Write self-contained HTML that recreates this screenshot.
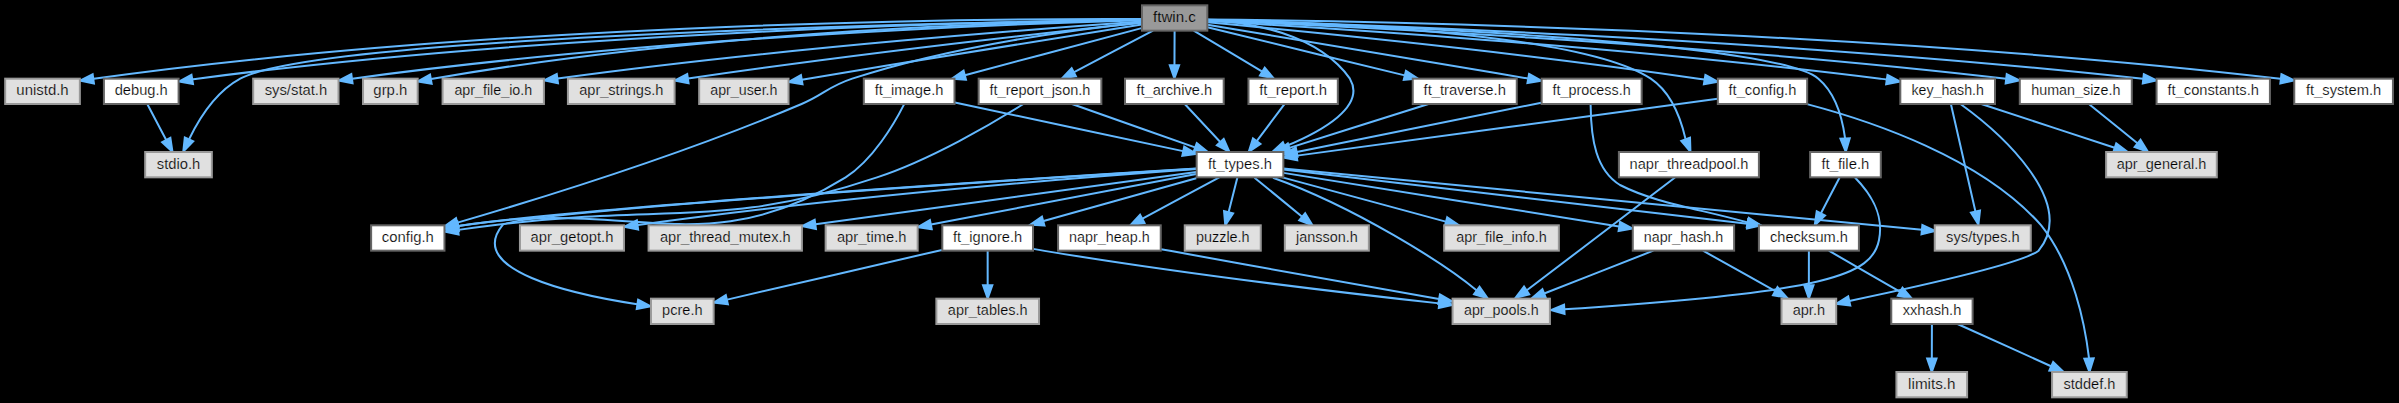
<!DOCTYPE html><html><head><meta charset="utf-8"><style>html,body{margin:0;padding:0;background:#000;overflow:hidden}svg{display:block} text{font-family:"Liberation Sans",sans-serif;font-size:14.2px;fill:#000}</style></head><body><svg width="2399" height="403" viewBox="0 0 2399 403">
<rect width="2399" height="403" fill="#000"/>
<g fill="none" stroke="#63b8ff" stroke-width="2.0">
<path d="M1141.68,19.09 C1010.59,18.56 513.73,20.58 93.74,78.76"/>
<path d="M1141.58,19.68 C1017.17,21.32 565.56,30.45 197.25,78.67 195.77,78.85 194.28,79.07 192.77,79.29"/>
<path d="M1141.49,19.80 C984.66,22.20 321.61,34.89 240.22,78.67 215.68,91.88 198.93,119.00 189.22,139.00"/>
<path d="M1141.90,20.13 C1032.11,23.15 666.89,35.78 352.25,78.68"/>
<path d="M1141.72,19.67 C1038.55,21.16 712.52,29.56 431.08,79.09"/>
<path d="M1141.68,21.52 C1050.81,27.76 789.02,47.12 557.60,78.59"/>
<path d="M1141.44,22.79 C1064.36,30.91 867.12,52.44 688.10,78.53"/>
<path d="M1141.76,24.49 C1077.52,34.59 930.93,57.83 807.86,78.67 805.91,79.00 803.92,79.34 801.93,79.68"/>
<path d="M1141.86,22.39 C1082.73,28.56 954.87,44.87 852.22,78.67 827.83,86.69 824.40,94.32 801.59,104.00 682.36,154.56 533.31,200.47 457.49,222.65"/>
<path d="M1141.58,28.14 C1097.36,39.90 1018.36,60.93 964.87,75.17"/>
<path d="M1207.53,19.69 C1248.77,22.12 1317.97,33.23 1349.91,78.67 1366.24,106.37 1322.47,131.08 1284.77,146.55"/>
<path d="M1153.01,30.69 C1131.75,41.85 1098.95,59.07 1074.16,72.07"/>
<path d="M1174.60,31.00 C1174.56,40.27 1174.51,53.53 1174.46,65.16"/>
<path d="M1193.69,30.69 C1212.06,41.64 1240.20,58.42 1261.86,71.34"/>
<path d="M1207.42,27.32 C1255.22,38.96 1344.92,60.81 1404.76,75.38"/>
<path d="M1207.44,24.67 C1267.84,34.55 1401.18,56.49 1527.94,78.50"/>
<path d="M1207.34,19.79 C1302.93,21.68 1579.91,31.23 1650.79,78.67 1671.48,92.60 1680.96,119.19 1685.50,138.87"/>
<path d="M1207.85,22.36 C1290.79,30.11 1513.72,51.87 1698.51,78.67 1700.47,78.95 1702.45,79.25 1704.45,79.56"/>
<path d="M1207.36,20.23 C1331.93,23.89 1771.91,39.56 1818.36,78.67 1835.44,92.93 1842.41,118.67 1845.06,138.03"/>
<path d="M1207.41,21.12 C1309.07,26.89 1622.44,46.26 1880.50,78.74 1882.28,78.97 1884.43,79.24 1886.25,79.50"/>
<path d="M1207.40,20.58 C1318.74,25.04 1687.41,41.73 2006.05,78.71"/>
<path d="M1207.64,20.16 C1330.53,23.49 1767.68,37.64 2142.93,78.82"/>
<path d="M1207.34,19.56 C1340.51,20.79 1848.93,28.61 2280.33,78.72"/>
<path d="M147.40,104.33 C152.50,114.01 159.90,128.06 166.21,140.02"/>
<path d="M904.07,104.36 C894.49,123.28 872.83,160.23 845.65,177.33 703.71,264.96 631.13,197.24 463.80,225.33 461.84,225.65 459.85,225.99 457.84,226.33"/>
<path d="M954.83,102.44 C1013.86,115.04 1118.85,137.45 1182.99,151.14"/>
<path d="M1196.43,168.61 C1056.21,177.10 606.97,205.18 463.22,225.30 461.55,225.54 460.29,225.71 458.58,225.97"/>
<path d="M1196.32,168.63 C1037.46,178.32 509.48,212.15 502.33,225.33 465.64,270.52 572.51,294.32 637.15,304.25"/>
<path d="M1196.47,169.06 C1100.19,176.03 855.70,195.14 637.81,224.97"/>
<path d="M1196.37,171.99 C1113.58,183.35 926.07,209.09 815.61,224.25"/>
<path d="M1196.28,174.09 C1139.77,184.57 1034.46,204.22 931.04,224.53"/>
<path d="M1196.27,178.28 C1154.61,189.92 1089.56,208.10 1043.61,220.95"/>
<path d="M1273.00,177.70 C1355.00,207.00 1445.00,264.00 1476.80,290.50"/>
<path d="M1219.30,177.36 C1198.17,188.72 1166.86,205.57 1142.53,218.66"/>
<path d="M1237.33,177.67 C1234.89,187.34 1231.69,199.94 1228.66,211.90"/>
<path d="M1254.52,177.67 C1266.83,187.76 1286.85,204.18 1301.84,216.46"/>
<path d="M1280.47,176.85 C1324.88,188.88 1396.33,208.26 1445.66,221.63"/>
<path d="M1283.45,172.88 C1365.50,185.97 1523.76,211.25 1618.98,226.44"/>
<path d="M1283.30,169.60 C1438.05,187.68 1592.81,205.77 1747.56,223.85"/>
<path d="M1283.30,168.60 C1496.18,188.98 1709.05,209.35 1921.93,229.73"/>
<path d="M941.94,249.91 C883.99,263.32 784.73,286.29 727.19,299.61"/>
<path d="M987.66,251.00 C987.67,260.27 987.67,273.53 987.68,285.16"/>
<path d="M1033.29,248.88 C1037.07,249.58 1040.85,250.25 1044.49,250.86 1185.67,274.25 1352.25,293.78 1439.27,303.37"/>
<path d="M1161.03,249.15 C1164.53,249.80 1168.01,250.46 1171.40,251.07 1265.21,268.32 1373.53,287.52 1438.96,299.05"/>
<path d="M1653.34,250.69 C1625.43,261.64 1577.07,280.62 1544.16,293.54"/>
<path d="M1702.99,250.69 C1723.28,262.04 1751.95,278.08 1774.88,290.90"/>
<path d="M1808.89,251.00 C1808.88,260.27 1808.88,273.53 1808.87,285.16"/>
<path d="M1828.83,250.69 C1847.67,261.55 1877.46,278.72 1899.80,291.58"/>
<path d="M1931.92,324.33 C1931.89,333.60 1931.85,346.87 1931.82,358.49"/>
<path d="M1957.56,324.03 C1982.31,335.19 2022.28,353.22 2051.11,366.22"/>
<path d="M1023.01,104.27 C993.04,123.07 930.35,159.84 876.99,177.33 719.87,230.05 663.36,203.00 493.13,225.33 481.85,226.76 469.75,228.35 458.29,229.87"/>
<path d="M1071.98,104.03 C1105.48,115.83 1157.50,134.17 1194.99,147.38"/>
<path d="M1184.74,104.03 C1194.51,114.47 1208.44,129.38 1220.26,142.02"/>
<path d="M1284.28,104.33 C1277.05,114.01 1265.84,129.01 1256.91,140.97"/>
<path d="M1428.48,104.03 C1391.00,115.83 1331.32,134.63 1289.38,147.84"/>
<path d="M1541.32,102.77 C1476.10,115.88 1364.99,138.22 1296.81,151.92"/>
<path d="M1590.60,104.70 C1591.00,140.00 1596.00,170.00 1620.00,185.00 1655.00,203.00 1700.00,209.00 1747.80,222.50"/>
<path d="M1675.00,177.50 C1640.00,204.00 1575.00,254.00 1526.50,290.50"/>
<path d="M1717.74,98.72 C1622.23,111.63 1402.58,141.35 1297.07,155.62"/>
<path d="M1807.03,104.11 C1870.56,120.85 1981.44,157.64 2041.21,225.33 2073.51,265.93 2085.09,324.99 2089.00,358.20"/>
<path d="M1855.00,177.50 C1872.00,195.00 1884.00,215.00 1879.00,240.00 1872.00,275.00 1830.00,292.00 1564.00,309.30"/>
<path d="M1839.49,177.67 C1834.40,187.44 1827.35,200.97 1821.08,213.01"/>
<path d="M1960.78,104.29 C1998.85,131.75 2078.63,201.97 2038.62,250.67 2021.52,263.95 1911.69,287.92 1849.34,300.96"/>
<path d="M1951.00,104.50 C1959.14,140.17 1967.29,175.84 1975.43,211.50"/>
<path d="M1981.32,104.03 C2018.16,116.09 2074.16,134.43 2114.64,147.69"/>
<path d="M2088.87,104.03 C2102.82,115.28 2121.28,130.21 2137.43,143.26"/>
</g>
<g fill="#63b8ff" stroke="#63b8ff" stroke-width="2.0">
<polygon points="93.94,83.44 80.09,80.67 92.65,74.20 93.94,83.44"/>
<polygon points="193.01,83.99 179.09,81.60 191.46,74.79 193.01,83.99"/>
<polygon points="193.23,141.41 183.29,151.45 184.81,137.41 193.23,141.41"/>
<polygon points="352.57,83.35 338.73,80.55 351.30,74.11 352.57,83.35"/>
<polygon points="431.67,83.72 417.72,81.48 430.03,74.53 431.67,83.72"/>
<polygon points="558.00,83.24 544.16,80.43 556.73,73.99 558.00,83.24"/>
<polygon points="688.57,83.19 674.69,80.51 687.21,73.95 688.57,83.19"/>
<polygon points="802.53,84.31 788.60,81.99 800.93,75.11 802.53,84.31"/>
<polygon points="458.59,227.19 444.49,226.39 456.01,218.23 458.59,227.19"/>
<polygon points="965.95,79.72 951.87,78.63 963.55,70.69 965.95,79.72"/>
<polygon points="1286.55,150.87 1272.45,151.81 1282.88,142.28 1286.55,150.87"/>
<polygon points="1076.00,76.37 1062.02,78.44 1071.66,68.11 1076.00,76.37"/>
<polygon points="1179.12,65.23 1174.40,78.55 1169.79,65.19 1179.12,65.23"/>
<polygon points="1264.71,67.61 1273.77,78.44 1259.93,75.62 1264.71,67.61"/>
<polygon points="1405.96,70.87 1417.81,78.56 1403.75,79.94 1405.96,70.87"/>
<polygon points="1529.05,73.95 1541.38,80.85 1527.45,83.15 1529.05,73.95"/>
<polygon points="1690.01,137.57 1690.43,151.69 1681.29,140.92 1690.01,137.57"/>
<polygon points="1705.38,74.98 1717.79,81.72 1703.89,84.20 1705.38,74.98"/>
<polygon points="1849.76,138.31 1845.76,151.85 1840.44,138.77 1849.76,138.31"/>
<polygon points="1887.50,74.97 1900.01,81.51 1886.15,84.19 1887.50,74.97"/>
<polygon points="2006.75,74.09 2019.45,80.29 2005.67,83.36 2006.75,74.09"/>
<polygon points="2143.82,74.21 2156.56,80.33 2142.79,83.50 2143.82,74.21"/>
<polygon points="2281.45,74.15 2294.15,80.34 2280.35,83.42 2281.45,74.15"/>
<polygon points="170.38,137.90 172.46,151.88 162.12,142.26 170.38,137.90"/>
<polygon points="458.44,230.97 444.48,228.81 456.73,221.80 458.44,230.97"/>
<polygon points="1184.24,146.65 1196.31,153.99 1182.29,155.76 1184.24,146.65"/>
<polygon points="458.98,230.65 445.04,228.36 457.36,221.46 458.98,230.65"/>
<polygon points="638.10,299.68 650.62,306.21 636.75,308.91 638.10,299.68"/>
<polygon points="638.13,229.64 624.28,226.84 636.86,220.40 638.13,229.64"/>
<polygon points="815.95,228.91 802.10,226.10 814.68,219.67 815.95,228.91"/>
<polygon points="931.74,229.15 917.76,227.14 929.93,219.99 931.74,229.15"/>
<polygon points="1044.45,225.58 1030.34,224.67 1041.93,216.58 1044.45,225.58"/>
<polygon points="1474.06,294.28 1487.60,298.30 1479.53,286.71"/>
<polygon points="1144.50,222.90 1130.55,225.11 1140.08,214.68 1144.50,222.90"/>
<polygon points="1233.08,213.44 1225.28,225.21 1224.04,211.14 1233.08,213.44"/>
<polygon points="1305.17,213.16 1312.51,225.21 1299.25,220.37 1305.17,213.16"/>
<polygon points="1447.25,217.23 1458.90,225.23 1444.80,226.24 1447.25,217.23"/>
<polygon points="1620.06,221.89 1632.49,228.60 1618.59,231.11 1620.06,221.89"/>
<polygon points="1747.02,228.49 1760.80,225.40 1748.10,219.21"/>
<polygon points="1921.49,234.38 1935.20,231.00 1922.38,225.08"/>
<polygon points="727.89,304.24 713.85,302.69 725.79,295.15 727.89,304.24"/>
<polygon points="992.35,285.21 987.69,298.55 983.02,285.22 992.35,285.21"/>
<polygon points="1439.82,298.73 1452.57,304.83 1438.81,308.02 1439.82,298.73"/>
<polygon points="1439.92,294.47 1452.24,301.38 1438.30,303.67 1439.92,294.47"/>
<polygon points="1545.80,297.91 1531.69,298.44 1542.39,289.22 1545.80,297.91"/>
<polygon points="1777.53,287.05 1786.90,297.63 1772.99,295.19 1777.53,287.05"/>
<polygon points="1813.53,285.22 1808.86,298.55 1804.20,285.21 1813.53,285.22"/>
<polygon points="1902.48,287.74 1911.70,298.44 1897.82,295.82 1902.48,287.74"/>
<polygon points="1936.49,358.56 1931.78,371.88 1927.15,358.53 1936.49,358.56"/>
<polygon points="2053.17,362.03 2063.40,371.77 2049.34,370.55 2053.17,362.03"/>
<polygon points="458.59,234.53 444.75,231.67 457.35,225.28 458.59,234.53"/>
<polygon points="1196.74,143.06 1207.76,151.89 1193.63,151.86 1196.74,143.06"/>
<polygon points="1223.69,138.84 1229.38,151.77 1216.87,145.22 1223.69,138.84"/>
<polygon points="1260.47,143.99 1248.75,151.88 1252.99,138.40 1260.47,143.99"/>
<polygon points="1290.65,152.34 1276.54,151.89 1287.85,143.44 1290.65,152.34"/>
<polygon points="1297.60,156.53 1283.61,154.59 1295.76,147.38 1297.60,156.53"/>
<polygon points="1746.77,227.06 1760.80,225.40 1748.81,217.94"/>
<polygon points="1524.02,286.54 1515.50,297.80 1529.19,294.32"/>
<polygon points="1297.23,160.31 1283.39,157.48 1295.97,151.05 1297.23,160.31"/>
<polygon points="2093.67,358.39 2089.45,371.87 2084.35,358.69 2093.67,358.39"/>
<polygon points="1564.06,304.62 1551.00,310.00 1564.56,313.95"/>
<polygon points="1825.01,215.55 1814.71,225.21 1816.74,211.24 1825.01,215.55"/>
<polygon points="1850.28,305.53 1836.24,303.95 1848.20,296.43 1850.28,305.53"/>
<polygon points="1970.88,212.54 1978.40,224.50 1979.99,210.46"/>
<polygon points="2116.23,143.31 2127.45,151.89 2113.32,152.18 2116.23,143.31"/>
<polygon points="2140.53,139.76 2147.96,151.77 2134.65,147.02 2140.53,139.76"/>
</g>
<rect x="1141.98" y="5.33" width="65.33" height="25.33" fill="#999999" stroke="#666666" stroke-width="2.0"/>
<text x="1174.47" y="21.93" text-anchor="middle" textLength="42.77" lengthAdjust="spacingAndGlyphs" stroke="#999999" stroke-width="0.2">ftwin.c</text>
<rect x="5.17" y="78.67" width="74.67" height="25.33" fill="#e0e0e0" stroke="#999999" stroke-width="2.0"/>
<text x="42.52" y="95.27" text-anchor="middle" textLength="52.36" lengthAdjust="spacingAndGlyphs" stroke="#e0e0e0" stroke-width="0.2">unistd.h</text>
<rect x="103.92" y="78.67" width="74.67" height="25.33" fill="#ffffff" stroke="#666666" stroke-width="2.0"/>
<text x="141.24" y="95.27" text-anchor="middle" textLength="53.08" lengthAdjust="spacingAndGlyphs" stroke="#ffffff" stroke-width="0.2">debug.h</text>
<rect x="145.17" y="152.00" width="66.67" height="25.33" fill="#e0e0e0" stroke="#999999" stroke-width="2.0"/>
<text x="178.59" y="168.60" text-anchor="middle" textLength="43.48" lengthAdjust="spacingAndGlyphs" stroke="#e0e0e0" stroke-width="0.2">stdio.h</text>
<rect x="253.18" y="78.67" width="85.33" height="25.33" fill="#e0e0e0" stroke="#999999" stroke-width="2.0"/>
<text x="295.94" y="95.27" text-anchor="middle" textLength="62.56" lengthAdjust="spacingAndGlyphs" stroke="#e0e0e0" stroke-width="0.2">sys/stat.h</text>
<rect x="363.02" y="78.67" width="54.67" height="25.33" fill="#e0e0e0" stroke="#999999" stroke-width="2.0"/>
<text x="390.35" y="95.27" text-anchor="middle" textLength="33.99" lengthAdjust="spacingAndGlyphs" stroke="#e0e0e0" stroke-width="0.2">grp.h</text>
<rect x="442.58" y="78.67" width="101.33" height="25.33" fill="#e0e0e0" stroke="#999999" stroke-width="2.0"/>
<text x="493.29" y="95.27" text-anchor="middle" textLength="77.73" lengthAdjust="spacingAndGlyphs" stroke="#e0e0e0" stroke-width="0.2">apr_file_io.h</text>
<rect x="567.92" y="78.67" width="106.67" height="25.33" fill="#e0e0e0" stroke="#999999" stroke-width="2.0"/>
<text x="621.29" y="95.27" text-anchor="middle" textLength="84.22" lengthAdjust="spacingAndGlyphs" stroke="#e0e0e0" stroke-width="0.2">apr_strings.h</text>
<rect x="699.18" y="78.67" width="89.33" height="25.33" fill="#e0e0e0" stroke="#999999" stroke-width="2.0"/>
<text x="743.87" y="95.27" text-anchor="middle" textLength="67.22" lengthAdjust="spacingAndGlyphs" stroke="#e0e0e0" stroke-width="0.2">apr_user.h</text>
<rect x="371.13" y="225.33" width="73.33" height="25.33" fill="#ffffff" stroke="#666666" stroke-width="2.0"/>
<text x="407.83" y="241.93" text-anchor="middle" textLength="51.97" lengthAdjust="spacingAndGlyphs" stroke="#ffffff" stroke-width="0.2">config.h</text>
<rect x="863.82" y="78.67" width="90.67" height="25.33" fill="#ffffff" stroke="#666666" stroke-width="2.0"/>
<text x="909.10" y="95.27" text-anchor="middle" textLength="68.64" lengthAdjust="spacingAndGlyphs" stroke="#ffffff" stroke-width="0.2">ft_image.h</text>
<rect x="1196.67" y="152.00" width="86.67" height="25.33" fill="#ffffff" stroke="#666666" stroke-width="2.0"/>
<text x="1239.97" y="168.60" text-anchor="middle" textLength="63.98" lengthAdjust="spacingAndGlyphs" stroke="#ffffff" stroke-width="0.2">ft_types.h</text>
<rect x="978.67" y="78.67" width="122.67" height="25.33" fill="#ffffff" stroke="#666666" stroke-width="2.0"/>
<text x="1039.95" y="95.27" text-anchor="middle" textLength="100.92" lengthAdjust="spacingAndGlyphs" stroke="#ffffff" stroke-width="0.2">ft_report_json.h</text>
<rect x="1125.02" y="78.67" width="98.67" height="25.33" fill="#ffffff" stroke="#666666" stroke-width="2.0"/>
<text x="1174.30" y="95.27" text-anchor="middle" textLength="75.85" lengthAdjust="spacingAndGlyphs" stroke="#ffffff" stroke-width="0.2">ft_archive.h</text>
<rect x="1248.48" y="78.67" width="89.33" height="25.33" fill="#ffffff" stroke="#666666" stroke-width="2.0"/>
<text x="1293.14" y="95.27" text-anchor="middle" textLength="67.93" lengthAdjust="spacingAndGlyphs" stroke="#ffffff" stroke-width="0.2">ft_report.h</text>
<rect x="1412.75" y="78.67" width="104.00" height="25.33" fill="#ffffff" stroke="#666666" stroke-width="2.0"/>
<text x="1464.73" y="95.27" text-anchor="middle" textLength="82.42" lengthAdjust="spacingAndGlyphs" stroke="#ffffff" stroke-width="0.2">ft_traverse.h</text>
<rect x="1541.65" y="78.67" width="100.00" height="25.33" fill="#ffffff" stroke="#666666" stroke-width="2.0"/>
<text x="1591.59" y="95.27" text-anchor="middle" textLength="78.08" lengthAdjust="spacingAndGlyphs" stroke="#ffffff" stroke-width="0.2">ft_process.h</text>
<rect x="1618.90" y="152.00" width="140.00" height="25.33" fill="#ffffff" stroke="#666666" stroke-width="2.0"/>
<text x="1688.96" y="168.60" text-anchor="middle" textLength="118.75" lengthAdjust="spacingAndGlyphs" stroke="#ffffff" stroke-width="0.2">napr_threadpool.h</text>
<rect x="1717.83" y="78.67" width="89.33" height="25.33" fill="#ffffff" stroke="#666666" stroke-width="2.0"/>
<text x="1762.45" y="95.27" text-anchor="middle" textLength="67.92" lengthAdjust="spacingAndGlyphs" stroke="#ffffff" stroke-width="0.2">ft_config.h</text>
<rect x="1810.12" y="152.00" width="70.67" height="25.33" fill="#ffffff" stroke="#666666" stroke-width="2.0"/>
<text x="1845.38" y="168.60" text-anchor="middle" textLength="47.91" lengthAdjust="spacingAndGlyphs" stroke="#ffffff" stroke-width="0.2">ft_file.h</text>
<rect x="1900.32" y="78.67" width="94.67" height="25.33" fill="#ffffff" stroke="#666666" stroke-width="2.0"/>
<text x="1947.69" y="95.27" text-anchor="middle" textLength="72.43" lengthAdjust="spacingAndGlyphs" stroke="#ffffff" stroke-width="0.2">key_hash.h</text>
<rect x="2019.80" y="78.67" width="112.00" height="25.33" fill="#ffffff" stroke="#666666" stroke-width="2.0"/>
<text x="2075.81" y="95.27" text-anchor="middle" textLength="89.12" lengthAdjust="spacingAndGlyphs" stroke="#ffffff" stroke-width="0.2">human_size.h</text>
<rect x="2156.58" y="78.67" width="113.33" height="25.33" fill="#ffffff" stroke="#666666" stroke-width="2.0"/>
<text x="2213.22" y="95.27" text-anchor="middle" textLength="91.48" lengthAdjust="spacingAndGlyphs" stroke="#ffffff" stroke-width="0.2">ft_constants.h</text>
<rect x="2294.27" y="78.67" width="98.67" height="25.33" fill="#ffffff" stroke="#666666" stroke-width="2.0"/>
<text x="2343.57" y="95.27" text-anchor="middle" textLength="75.19" lengthAdjust="spacingAndGlyphs" stroke="#ffffff" stroke-width="0.2">ft_system.h</text>
<rect x="650.97" y="298.67" width="62.67" height="25.33" fill="#e0e0e0" stroke="#999999" stroke-width="2.0"/>
<text x="682.32" y="315.27" text-anchor="middle" textLength="40.43" lengthAdjust="spacingAndGlyphs" stroke="#e0e0e0" stroke-width="0.2">pcre.h</text>
<rect x="519.95" y="225.33" width="104.00" height="25.33" fill="#e0e0e0" stroke="#999999" stroke-width="2.0"/>
<text x="571.97" y="241.93" text-anchor="middle" textLength="82.74" lengthAdjust="spacingAndGlyphs" stroke="#e0e0e0" stroke-width="0.2">apr_getopt.h</text>
<rect x="648.58" y="225.33" width="153.33" height="25.33" fill="#e0e0e0" stroke="#999999" stroke-width="2.0"/>
<text x="725.29" y="241.93" text-anchor="middle" textLength="130.70" lengthAdjust="spacingAndGlyphs" stroke="#e0e0e0" stroke-width="0.2">apr_thread_mutex.h</text>
<rect x="825.65" y="225.33" width="92.00" height="25.33" fill="#e0e0e0" stroke="#999999" stroke-width="2.0"/>
<text x="871.67" y="241.93" text-anchor="middle" textLength="69.47" lengthAdjust="spacingAndGlyphs" stroke="#e0e0e0" stroke-width="0.2">apr_time.h</text>
<rect x="942.32" y="225.33" width="90.67" height="25.33" fill="#ffffff" stroke="#666666" stroke-width="2.0"/>
<text x="987.59" y="241.93" text-anchor="middle" textLength="69.24" lengthAdjust="spacingAndGlyphs" stroke="#ffffff" stroke-width="0.2">ft_ignore.h</text>
<rect x="1452.58" y="298.67" width="97.33" height="25.33" fill="#e0e0e0" stroke="#999999" stroke-width="2.0"/>
<text x="1501.29" y="315.27" text-anchor="middle" textLength="74.64" lengthAdjust="spacingAndGlyphs" stroke="#e0e0e0" stroke-width="0.2">apr_pools.h</text>
<rect x="1058.07" y="225.33" width="102.67" height="25.33" fill="#ffffff" stroke="#666666" stroke-width="2.0"/>
<text x="1109.44" y="241.93" text-anchor="middle" textLength="80.73" lengthAdjust="spacingAndGlyphs" stroke="#ffffff" stroke-width="0.2">napr_heap.h</text>
<rect x="1184.75" y="225.33" width="76.00" height="25.33" fill="#e0e0e0" stroke="#999999" stroke-width="2.0"/>
<text x="1222.79" y="241.93" text-anchor="middle" textLength="53.74" lengthAdjust="spacingAndGlyphs" stroke="#e0e0e0" stroke-width="0.2">puzzle.h</text>
<rect x="1284.85" y="225.33" width="84.00" height="25.33" fill="#e0e0e0" stroke="#999999" stroke-width="2.0"/>
<text x="1326.83" y="241.93" text-anchor="middle" textLength="61.69" lengthAdjust="spacingAndGlyphs" stroke="#e0e0e0" stroke-width="0.2">jansson.h</text>
<rect x="1444.17" y="225.33" width="114.67" height="25.33" fill="#e0e0e0" stroke="#999999" stroke-width="2.0"/>
<text x="1501.56" y="241.93" text-anchor="middle" textLength="90.60" lengthAdjust="spacingAndGlyphs" stroke="#e0e0e0" stroke-width="0.2">apr_file_info.h</text>
<rect x="1632.78" y="225.33" width="101.33" height="25.33" fill="#ffffff" stroke="#666666" stroke-width="2.0"/>
<text x="1683.48" y="241.93" text-anchor="middle" textLength="79.47" lengthAdjust="spacingAndGlyphs" stroke="#ffffff" stroke-width="0.2">napr_hash.h</text>
<rect x="1758.90" y="225.33" width="100.00" height="25.33" fill="#ffffff" stroke="#666666" stroke-width="2.0"/>
<text x="1808.90" y="241.93" text-anchor="middle" textLength="77.85" lengthAdjust="spacingAndGlyphs" stroke="#ffffff" stroke-width="0.2">checksum.h</text>
<rect x="1934.75" y="225.33" width="96.00" height="25.33" fill="#e0e0e0" stroke="#999999" stroke-width="2.0"/>
<text x="1982.84" y="241.93" text-anchor="middle" textLength="73.44" lengthAdjust="spacingAndGlyphs" stroke="#e0e0e0" stroke-width="0.2">sys/types.h</text>
<rect x="936.37" y="298.67" width="102.67" height="25.33" fill="#e0e0e0" stroke="#999999" stroke-width="2.0"/>
<text x="987.72" y="315.27" text-anchor="middle" textLength="79.77" lengthAdjust="spacingAndGlyphs" stroke="#e0e0e0" stroke-width="0.2">apr_tables.h</text>
<rect x="1781.52" y="298.67" width="54.67" height="25.33" fill="#e0e0e0" stroke="#999999" stroke-width="2.0"/>
<text x="1808.87" y="315.27" text-anchor="middle" textLength="32.39" lengthAdjust="spacingAndGlyphs" stroke="#e0e0e0" stroke-width="0.2">apr.h</text>
<rect x="1891.28" y="298.67" width="81.33" height="25.33" fill="#ffffff" stroke="#666666" stroke-width="2.0"/>
<text x="1932.03" y="315.27" text-anchor="middle" textLength="58.66" lengthAdjust="spacingAndGlyphs" stroke="#ffffff" stroke-width="0.2">xxhash.h</text>
<rect x="1896.42" y="372.00" width="70.67" height="25.33" fill="#e0e0e0" stroke="#999999" stroke-width="2.0"/>
<text x="1931.84" y="388.60" text-anchor="middle" textLength="47.44" lengthAdjust="spacingAndGlyphs" stroke="#e0e0e0" stroke-width="0.2">limits.h</text>
<rect x="2052.07" y="372.00" width="74.67" height="25.33" fill="#e0e0e0" stroke="#999999" stroke-width="2.0"/>
<text x="2089.49" y="388.60" text-anchor="middle" textLength="52.00" lengthAdjust="spacingAndGlyphs" stroke="#e0e0e0" stroke-width="0.2">stddef.h</text>
<rect x="2106.12" y="152.00" width="110.67" height="25.33" fill="#e0e0e0" stroke="#999999" stroke-width="2.0"/>
<text x="2161.50" y="168.60" text-anchor="middle" textLength="89.56" lengthAdjust="spacingAndGlyphs" stroke="#e0e0e0" stroke-width="0.2">apr_general.h</text>
</svg></body></html>
